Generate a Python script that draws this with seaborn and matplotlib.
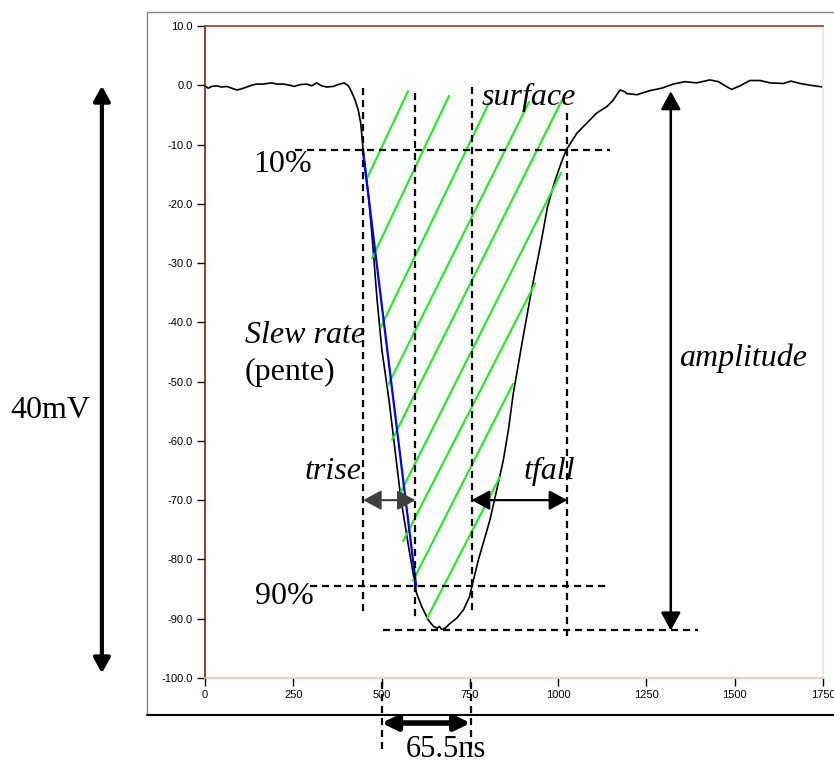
import matplotlib
matplotlib.use("Agg")
import matplotlib.pyplot as plt
import seaborn as sns
from matplotlib.lines import Line2D

wave_t = [0, 9, 19, 33, 47, 61, 76, 90, 104, 118, 132, 146, 165, 189, 203, 222,
          241, 252, 269, 288, 302, 316, 330, 345, 363, 382, 394, 406, 415, 425,
          434, 441, 447, 464, 476, 487, 501, 521, 538, 555, 578, 595, 599, 614,
          632, 647, 658, 664, 670, 680, 694, 713, 732, 749, 758, 774, 793, 807,
          826, 845, 859, 873, 901, 925, 951, 970, 989, 1008, 1023, 1053, 1081,
          1109, 1138, 1156, 1175, 1189, 1194, 1223, 1260, 1293, 1326, 1359, 1392,
          1430, 1454, 1473, 1491, 1515, 1543, 1572, 1600, 1638, 1659, 1685, 1714, 1750]
wave_v = [-0.1, -0.5, -0.2, -0.1, -0.3, -0.2, -0.5, -0.8, -0.6, -0.3, 0.0, 0.2,
          0.2, 0.4, 0.2, 0.2, 0.0, -0.2, 0.1, 0.2, -0.1, 0.4, -0.1, -0.3, -0.2,
          0.2, 0.4, -0.1, -1.1, -2.5, -4.2, -6.4, -10.4, -19.1, -27.6, -36.0,
          -44.7, -53.1, -61.5, -69.9, -78.4, -84.3, -85.7, -88.0, -90.2, -91.3,
          -91.6, -91.3, -91.8, -91.6, -90.8, -89.9, -88.5, -86.3, -84.0, -80.1,
          -76.2, -73.3, -68.3, -63.2, -58.2, -52.0, -42.4, -34.5, -26.7, -20.5,
          -16.5, -13.2, -10.9, -8.1, -6.4, -4.7, -3.6, -2.5, -0.8, -1.1, -1.4,
          -1.6, -0.9, -0.5, 0.2, 0.6, 0.4, 0.9, 0.6, -0.1, -0.7, -0.1, 0.8, 0.8,
          0.4, 0.3, 0.7, 0.3, 0.0, -0.3]

# Hachures "surface" (début / fin de chaque trait)
hatch_x0 = [459, 473, 498, 518, 530, 547, 561, 589, 629]
hatch_y0 = [-15.7, -29.2, -40.8, -50.6, -59.8, -69.5, -76.9, -83.6, -89.9]
hatch_x1 = [575, 691, 804, 918, 1011, 1008, 935, 872, 835]
hatch_y1 = [-1.0, -1.8, -3.0, -2.8, -2.5, -14.8, -33.4, -50.4, -66.1]

# Pente 10% -> 90%
slew_t = [447, 598]
slew_v = [-11.0, -84.5]

# Repères en pointillés
h_lines_y = [-11.0, -84.4, -91.9]
h_lines_x0 = [255, 297, 504]
h_lines_x1 = [1147, 1147, 1396]
v_lines_x = [448, 596, 755, 1026]
v_lines_y0 = [-0.4, -1.3, -0.3, -4.7]
v_lines_y1 = [-89.0, -90.0, -88.9, -93.6]
width_x = [500, 752]

y_ticks = [10, 0, -10, -20, -30, -40, -50, -60, -70, -80, -90, -100]
x_ticks = [0, 250, 500, 750, 1000, 1250, 1500, 1750]

sns.set_style("white")
plt.rcParams['font.family'] = ['Liberation Sans', 'DejaVu Sans']
plt.rcParams['text.color'] = 'black'
plt.rcParams['xtick.color'] = 'black'
plt.rcParams['ytick.color'] = 'black'

fig = plt.figure(figsize=(8.34, 7.64), dpi=100)
ax = fig.add_axes([0.2458, 0.1126, 0.741, 0.8534])

sns.lineplot(x=wave_t, y=wave_v, ax=ax, color="black", lw=1.2)

for x0, y0, x1, y1 in zip(hatch_x0, hatch_y0, hatch_x1, hatch_y1):
    ax.plot([x0, x1], [y0, y1], color="#1aee1a", lw=1.5)

ax.plot(slew_t, slew_v, color="#0000ee", lw=1.6)

dash = (0, (3.2, 2.2))
for y, x0, x1 in zip(h_lines_y, h_lines_x0, h_lines_x1):
    ax.plot([x0, x1], [y, y], color="black", lw=1.6, linestyle=dash)
for x, y0, y1 in zip(v_lines_x, v_lines_y0, v_lines_y1):
    ax.plot([x, x], [y0, y1], color="black", lw=1.6, linestyle=dash)
for x in width_x:
    ax.plot([x, x], [-100.6, -112.0], color="black", lw=1.6, linestyle=dash,
            clip_on=False)

def fleche(p0, p1, color="black", lw=1.5, hl=0.55, hw=0.3, ms=20):
    ax.annotate("", xy=p1, xytext=p0, annotation_clip=False,
                arrowprops=dict(arrowstyle=f"<|-|>,head_length={hl},head_width={hw}",
                                color=color, lw=lw, mutation_scale=ms,
                                shrinkA=0, shrinkB=0))

fleche((448, -70.0), (596, -70.0), color="#404040", lw=1.5, hl=0.55, hw=0.3)
fleche((755, -70.0), (1026, -70.0), lw=1.6, hl=0.55, hw=0.3)
fleche((1319, -1.0), (1319, -92.0), lw=1.8, hl=0.55, hw=0.3)
fleche((-292, -0.1), (-292, -99.2), lw=3, hl=0.45, hw=0.25)
fleche((500, -107.6), (752, -107.6), lw=4, hl=0.45, hw=0.22)

serif = ['Liberation Serif', 'DejaVu Serif']
txt = dict(fontsize=23, family=serif, color="black", ha="left", va="center",
           clip_on=False)
ax.text(136, -13.3, "10%", **txt)
ax.text(142, -86.2, "90%", **txt)
ax.text(784, -2.0, "surface", style="italic", **txt)
ax.text(113, -42.3, "Slew rate", style="italic", **txt)
ax.text(113, -48.5, "(pente)", **txt)
ax.text(283, -65.1, "trise", style="italic", **txt)
ax.text(902, -65.2, "tfall", style="italic", **txt)
ax.text(1342, -46.0, "amplitude", style="italic", **txt)
ax.text(-552, -54.8, "40mV", **txt)
ax.text(568, -113.3, "65.5ns", fontsize=22, family=serif, color="black",
        ha="left", va="baseline", clip_on=False)

ax.set_xlim(0, 1750)
ax.set_ylim(-100, 10)
ax.set_yticks(y_ticks)
ax.set_yticklabels([f"{v:.1f}" for v in y_ticks])
ax.set_xticks(x_ticks)
ax.set_xticklabels([str(v) for v in x_ticks])
ax.tick_params(axis="both", direction="out", length=6, width=1, color="black",
               labelcolor="black", labelsize=8, pad=3, left=True, bottom=True)
ax.set_xlabel("")
ax.set_ylabel("")

ax.spines["left"].set_color("#8b1a00")
ax.spines["top"].set_color("#a33b2a")
ax.spines["right"].set_color("#fde0d8")
ax.spines["bottom"].set_color("#f9c4b4")
for s in ax.spines.values():
    s.set_linewidth(1.2)

# cadre extérieur
fig.add_artist(Line2D([0.1763, 0.1763], [0.9843, 0.0641], color="#888888", lw=1,
                      transform=fig.transFigure))
fig.add_artist(Line2D([0.1763, 1.0], [0.9843, 0.9843], color="#888888", lw=1,
                      transform=fig.transFigure))
fig.add_artist(Line2D([0.1763, 1.0], [0.0641, 0.0641], color="black", lw=1.5,
                      transform=fig.transFigure))

fig.savefig("out.png", dpi=100, facecolor="white")
